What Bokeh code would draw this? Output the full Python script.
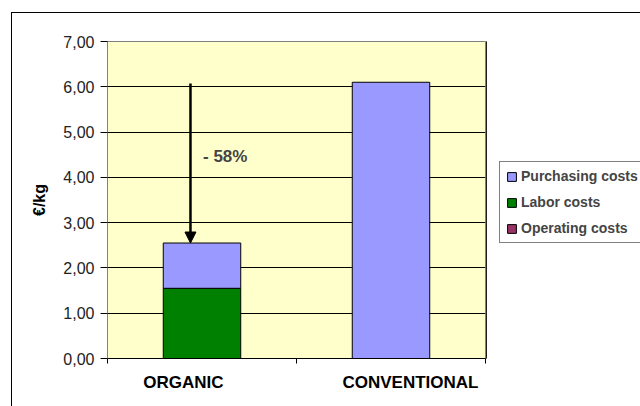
from bokeh.plotting import figure
from bokeh.models import (Range1d, FixedTicker, Legend, LegendItem, Arrow,
                          NormalHead, Label, ColumnDataSource, Row,
                          InlineStyleSheet)
from bokeh.embed import file_html
from bokeh.resources import INLINE

# ---- data ----
categories = ["ORGANIC", "CONVENTIONAL"]
operating_costs = [0.0, 0.0]
labor_costs = [1.55, 0.0]
purchasing_costs = [1.0, 6.1]
series_names = ["Purchasing costs", "Labor costs", "Operating costs"]
y_ticks = [0, 1, 2, 3, 4, 5, 6, 7]
y_tick_labels = ["0,00", "1,00", "2,00", "3,00", "4,00", "5,00", "6,00", "7,00"]
y_axis_title = "€/kg"

# ---- styling ----
col_purch = "#9999FF"
col_labor = "#008000"
col_oper = "#993366"
series_colors = [col_purch, col_labor, col_oper]
FONT = "Liberation Sans"

xpos = [i + 0.5 for i in range(len(categories))]
label_shift = [-0.098, 0.103]          # category label offsets (layout)
label_pos = [x + s for x, s in zip(xpos, label_shift)]

totals = [o + l + pc for o, l, pc in zip(operating_costs, labor_costs, purchasing_costs)]
reduction_text = "- %d%%" % round((1 - totals[0] / totals[1]) * 100)

src = ColumnDataSource(dict(x=xpos, operating=operating_costs,
                            labor=labor_costs, purchasing=purchasing_costs))

p = figure(width=486, height=406, x_range=Range1d(0, 2), y_range=Range1d(0, 7),
           output_backend="svg", toolbar_location=None,
           min_border_left=107, min_border_right=1,
           min_border_top=41, min_border_bottom=48)
p.background_fill_color = "#FFFFCC"
p.border_fill_color = "white"
p.outline_line_color = "#808080"

rs = p.vbar_stack(["operating", "labor", "purchasing"], x="x", width=0.41,
                  color=[col_oper, col_labor, col_purch], line_color="black",
                  line_width=1, source=src)

# y axis
p.yaxis.ticker = FixedTicker(ticks=y_ticks, minor_ticks=[])
p.yaxis.major_label_overrides = {t: l for t, l in zip(y_ticks, y_tick_labels)}
p.yaxis.major_label_text_font = FONT
p.yaxis.major_label_text_font_size = "16px"
p.yaxis.major_label_text_color = "#222222"
p.yaxis.major_tick_out = 7
p.yaxis.major_tick_in = 0
p.yaxis.major_tick_line_color = "black"
p.yaxis.major_label_standoff = 6
p.yaxis.axis_line_color = "#808080"
p.yaxis.axis_label = y_axis_title
p.yaxis.axis_label_text_font = FONT
p.yaxis.axis_label_text_font_style = "bold"
p.yaxis.axis_label_text_font_size = "16px"
p.yaxis.axis_label_text_color = "black"
p.yaxis.axis_label_standoff = 12

# x axis
p.xaxis.ticker = FixedTicker(ticks=label_pos, minor_ticks=[0, 1, 2])
p.xaxis.major_label_overrides = {t: c for t, c in zip(label_pos, categories)}
p.xaxis.major_label_text_font = FONT
p.xaxis.major_label_text_font_style = "bold"
p.xaxis.major_label_text_font_size = "17px"
p.xaxis.major_label_text_color = "black"
p.xaxis.major_tick_out = 0
p.xaxis.major_tick_in = 0
p.xaxis.minor_tick_out = 5
p.xaxis.minor_tick_in = 0
p.xaxis.minor_tick_line_color = "black"
p.xaxis.major_label_standoff = 9
p.xaxis.axis_line_color = "black"

p.xgrid.visible = False
p.ygrid.ticker = FixedTicker(ticks=y_ticks)
p.ygrid.grid_line_color = "black"
p.ygrid.grid_line_width = 1

# arrow + annotation
p.add_layout(Arrow(end=NormalHead(size=11, fill_color="black", line_color="black"),
                   x_start=xpos[0] - 0.061, y_start=totals[1] - 0.03,
                   x_end=xpos[0] - 0.061, y_end=totals[0],
                   line_width=2.5, line_color="black"))
p.add_layout(Label(x=xpos[0], y=4.45, x_offset=1, text=reduction_text,
                   text_font=FONT, text_font_style="bold",
                   text_font_size="17px", text_baseline="middle"))

# legend panel (separate figure so the legend is not clipped by the plot frame)
p2 = figure(width=154, height=406, x_range=Range1d(0, 1), y_range=Range1d(0, 1),
            output_backend="svg", toolbar_location=None,
            x_axis_location=None, y_axis_location=None,
            min_border_left=0, min_border_right=0, min_border_top=0,
            min_border_bottom=0)
p2.outline_line_color = None
p2.background_fill_color = "white"
p2.border_fill_color = "white"
p2.grid.visible = False
# legend-only swatches, kept outside the visible range of this panel
leg_renderers = [p2.vbar(x=[-5], top=[1], width=0.1, fill_color=c, line_color="black")
                 for c in series_colors]
legend = Legend(items=[LegendItem(label=n, renderers=[r])
                       for n, r in zip(series_names, leg_renderers)],
                location=(13, 115), border_line_color="black", border_line_width=1,
                background_fill_color="white", background_fill_alpha=1.0,
                label_text_font=FONT, label_text_font_style="bold",
                label_text_font_size="14px", label_height=15,
                glyph_width=11, glyph_height=11, label_standoff=4,
                spacing=10, padding=6, margin=0)
p2.add_layout(legend)

# outer chart border (top/left visible, the rest runs off the picture)
border_css = InlineStyleSheet(css="""
:host::after {
  content: "";
  position: absolute;
  left: 11px; top: 12px; right: 0; bottom: 0;
  border-left: 1px solid black;
  border-top: 1px solid black;
  pointer-events: none;
  z-index: 100;
}
""")
layout = Row(children=[p, p2], stylesheets=[border_css])

open("out.html", "w").write(file_html(layout, INLINE))
